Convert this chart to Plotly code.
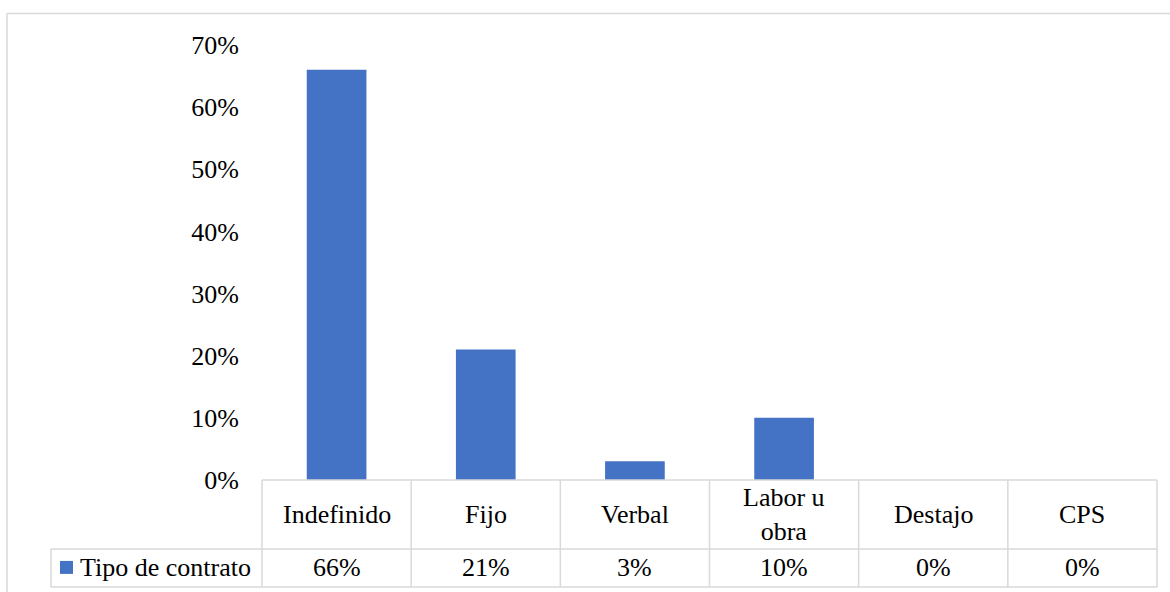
import plotly.graph_objects as go

categories = ["Indefinido", "Fijo", "Verbal", "Labor u obra", "Destajo", "CPS"]
header_labels = ["Indefinido", "Fijo", "Verbal", "Labor u<br>obra", "Destajo", "CPS"]
values = [0.66, 0.21, 0.03, 0.10, 0.0, 0.0]
series_name = "Tipo de contrato"

BAR_COLOR = "#4472C4"
GRID = "#d9d9d9"
FONT = "Liberation Serif, Times New Roman, serif"
FS = 26

W, H = 1170, 592
L, R, T, B = 262, 13, 44.6, 112
plot_w = W - L - R
plot_h = H - T - B


def py(px):
    # pixel y -> paper y
    return (H - B - px) / plot_h


def pxp(px):
    # pixel x -> paper x
    return (px - L) / plot_w


fig = go.Figure(
    go.Bar(
        x=categories,
        y=values,
        name=series_name,
        marker=dict(color=BAR_COLOR, line=dict(width=0)),
        showlegend=False,
    )
)

n = len(categories)
shapes = []
y_top, y_mid, y_bot = 0, py(549), py(587)
x_leg = pxp(51)
# horizontal table lines
shapes.append(dict(type="line", xref="paper", yref="paper", x0=0, x1=1, y0=y_top, y1=y_top,
                   line=dict(color=GRID, width=1.5)))
for yy in (y_mid, y_bot):
    shapes.append(dict(type="line", xref="paper", yref="paper", x0=x_leg, x1=1, y0=yy, y1=yy,
                       line=dict(color=GRID, width=1.5)))
# vertical table lines
for i in range(n + 1):
    xx = i / n
    shapes.append(dict(type="line", xref="paper", yref="paper", x0=xx, x1=xx, y0=y_top, y1=y_bot,
                       line=dict(color=GRID, width=1.5)))
shapes.append(dict(type="line", xref="paper", yref="paper", x0=x_leg, x1=x_leg, y0=y_mid, y1=y_bot,
                   line=dict(color=GRID, width=1.5)))
# legend key square
shapes.append(dict(type="rect", xref="paper", yref="paper", x0=pxp(60), x1=pxp(73),
                   y0=py(574), y1=py(561), fillcolor=BAR_COLOR, line=dict(width=0)))
# chart border (left and top)
shapes.append(dict(type="line", xref="paper", yref="paper", x0=pxp(7), x1=pxp(7), y0=py(13), y1=py(600),
                   line=dict(color=GRID, width=1.5)))
shapes.append(dict(type="line", xref="paper", yref="paper", x0=pxp(7), x1=pxp(1175), y0=py(13), y1=py(13),
                   line=dict(color=GRID, width=1.5)))

annotations = []
for cat, lab, v in zip(categories, header_labels, values):
    annotations.append(dict(x=cat, xref="x", y=py(515), yref="paper", text=lab, showarrow=False,
                            font=dict(family=FONT, size=FS, color="#000"), xanchor="center",
                            yanchor="middle"))
    annotations.append(dict(x=cat, xref="x", y=py(568), yref="paper", text=f"{v:.0%}", showarrow=False,
                            font=dict(family=FONT, size=FS, color="#000"), xanchor="center",
                            yanchor="middle"))
annotations.append(dict(x=pxp(78), xref="paper", y=py(568), yref="paper", text=series_name,
                        showarrow=False, font=dict(family=FONT, size=FS, color="#000"),
                        xanchor="left", yanchor="middle"))

fig.update_layout(
    width=W, height=H,
    margin=dict(l=L, r=R, t=T, b=B, pad=0),
    paper_bgcolor="white", plot_bgcolor="white",
    bargap=0.6,
    font=dict(family=FONT, size=FS, color="#000"),
    xaxis=dict(showticklabels=False, showgrid=False, showline=False, zeroline=False, ticks=""),
    yaxis=dict(range=[0, 0.7], dtick=0.1, tickformat=".0%", showgrid=False, showline=False,
               zeroline=False, ticks="", ticklabelstandoff=22,
               tickfont=dict(family=FONT, size=FS, color="#000")),
    shapes=shapes,
    annotations=annotations,
)

fig.write_html(
    "out.html",
    config={"displayModeBar": False},
    post_script="document.body.style.margin='0';document.body.style.overflow='hidden';",
)
